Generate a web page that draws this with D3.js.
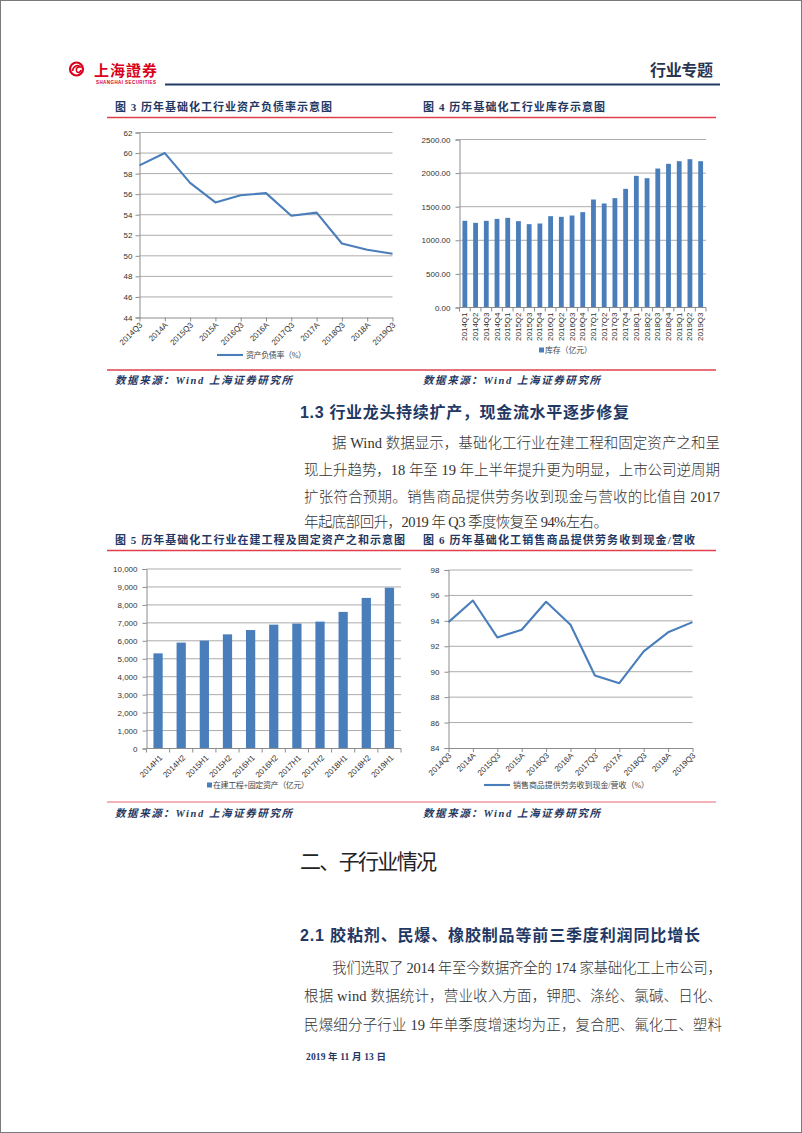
<!DOCTYPE html>
<html><head><meta charset="utf-8">
<script src="https://cdn.jsdelivr.net/npm/d3@7"></script>
<style>body{margin:0;background:#fff}svg{display:block}</style>
</head><body><svg id="page" width="802" height="1133"></svg>
<script>
// ---- data ----
const debtCats = ["2014Q3","2014A","2015Q3","2015A","2016Q3","2016A","2017Q3","2017A","2018Q3","2018A","2019Q3"];
const debtVals = [58.8,60.0,57.1,55.2,55.9,56.1,53.9,54.2,51.2,50.6,50.2];
const debtTicks = [44,46,48,50,52,54,56,58,60,62];

const invCats = ["2014Q1","2014Q2","2014Q3","2014Q4","2015Q1","2015Q2","2015Q3","2015Q4","2016Q1","2016Q2","2016Q3","2016Q4","2017Q1","2017Q2","2017Q3","2017Q4","2018Q1","2018Q2","2018Q3","2018Q4","2019Q1","2019Q2","2019Q3"];
const invVals = [1290,1260,1290,1319,1334,1285,1240,1250,1359,1349,1369,1419,1607,1548,1627,1766,1959,1924,2068,2138,2177,2207,2177];
const invTicks = [0,500,1000,1500,2000,2500];

const capexCats = ["2014H1","2014H2","2015H1","2015H2","2016H1","2016H2","2017H1","2017H2","2018H1","2018H2","2019H1"];
const capexVals = [5300,5900,6010,6360,6600,6900,6960,7070,7610,8390,8960];
const capexTicks = [0,1000,2000,3000,4000,5000,6000,7000,8000,9000,10000];

const cashCats = ["2014Q3","2014A","2015Q3","2015A","2016Q3","2016A","2017Q3","2017A","2018Q3","2018A","2019Q3"];
const cashVals = [93.9,95.6,92.7,93.3,95.5,93.7,89.7,89.1,91.6,93.1,93.9];
const cashTicks = [84,86,88,90,92,94,96,98];

// ---- styles ----
const BLUE = "#4a7ebb", GRID = "#acacac", AXIS = "#8c8c8c", NAVY = "#1f3864";
const TICKFONT = "'Liberation Sans', Arial, sans-serif";
const CJK = "'Liberation Serif','Noto Sans CJK SC',serif";
const svg = d3.select("#page");
svg.append("rect").attr("x",0.5).attr("y",0.5).attr("width",801).attr("height",1132)
  .attr("fill","#fff").attr("stroke","#7a7a7a");

function txt(s, x, y, o) {
  o = o || {};
  const t = svg.append("text").attr("x", x).attr("y", y).text(s)
    .attr("dominant-baseline","central")
    .attr("font-family", o.family || CJK)
    .attr("font-size", o.size || 14)
    .attr("font-weight", o.weight || "normal")
    .attr("fill", o.fill || "#222");
  if (o.style) t.attr("font-style", o.style);
  if (o.anchor) t.attr("text-anchor", o.anchor);
  if (o.len) t.attr("textLength", o.len).attr("lengthAdjust", o.adjust || "spacing");
  return t;
}

// ---- header ----
const logo = svg.append("g");
logo.append("circle").attr("cx",76.5).attr("cy",69).attr("r",6.5).attr("fill","none").attr("stroke","#d9001b").attr("stroke-width",2.2);
logo.append("path").attr("d","M72.5,71 C73,66 78,64 80.5,67 C78,66.5 75.5,68 76.5,71 C77.5,73.5 80.5,72.5 81,70").attr("fill","none").attr("stroke","#d9001b").attr("stroke-width",1.6);
txt("上海證券", 94, 69, {size:15, weight:"bold", fill:"#d9001b", len:63, family:"'Noto Sans CJK TC','Noto Sans CJK SC'"});
txt("SHANGHAI SECURITIES", 96, 82, {size:4.5, weight:"bold", fill:"#d9001b", len:60, family:TICKFONT});
svg.append("line").attr("x1",165).attr("x2",720).attr("y1",84.5).attr("y2",84.5).attr("stroke",NAVY).attr("stroke-width",2.2);
txt("行业专题", 650, 69, {size:16, weight:"bold", fill:"#2a3550", len:63, family:"'Noto Sans CJK SC'"});

// figure titles & rules
const TITLEF = "'Liberation Serif','Noto Sans CJK SC'";
function redLine(y, color) {
  svg.append("line").attr("x1",107).attr("x2",716).attr("y1",y).attr("y2",y).attr("stroke",color||"#e0404c").attr("stroke-width",1.3);
}
txt("图 3  历年基础化工行业资产负债率示意图", 115, 107, {size:11, weight:"bold", fill:NAVY, len:217, family:TITLEF});
txt("图 4  历年基础化工行业库存示意图", 423, 107, {size:11, weight:"bold", fill:NAVY, len:182, family:TITLEF});
redLine(117.5);
redLine(370);
txt("数据来源：Wind 上海证券研究所", 115, 380, {size:10.5, weight:"bold", style:"italic", fill:NAVY, len:177, family:TITLEF});
txt("数据来源：Wind 上海证券研究所", 423, 380, {size:10.5, weight:"bold", style:"italic", fill:NAVY, len:177, family:TITLEF});

txt("1.3  行业龙头持续扩产，现金流水平逐步修复", 300, 412, {size:16, weight:"bold", fill:NAVY, len:329, family:"'Liberation Sans','Noto Sans CJK SC'"});
const P = {size:14.5, fill:"#333", weight:300, family:"'Liberation Serif','Noto Sans CJK SC'"};
txt("据 Wind 数据显示，基础化工行业在建工程和固定资产之和呈", 332, 443, Object.assign({len:388}, P));
txt("现上升趋势，18 年至 19 年上半年提升更为明显，上市公司逆周期", 304, 470, Object.assign({len:416}, P));
txt("扩张符合预期。销售商品提供劳务收到现金与营收的比值自 2017", 304, 497, Object.assign({len:416}, P));
txt("年起底部回升，2019 年 Q3 季度恢复至 94%左右。", 304, 522, Object.assign({len:304}, P));

txt("图 5  历年基础化工行业在建工程及固定资产之和示意图", 115, 540, {size:11, weight:"bold", fill:NAVY, len:290, family:TITLEF});
txt("图 6  历年基础化工销售商品提供劳务收到现金/营收", 423, 540, {size:11, weight:"bold", fill:NAVY, len:272, family:TITLEF});
redLine(550.5);
redLine(802, "#f09aa2");
txt("数据来源：Wind 上海证券研究所", 115, 813, {size:10.5, weight:"bold", style:"italic", fill:NAVY, len:177, family:TITLEF});
txt("数据来源：Wind 上海证券研究所", 423, 813, {size:10.5, weight:"bold", style:"italic", fill:NAVY, len:177, family:TITLEF});

txt("二、子行业情况", 300, 860, {size:21, fill:"#222", len:137, family:"'Noto Sans CJK SC'"});
txt("2.1  胶粘剂、民爆、橡胶制品等前三季度利润同比增长", 300, 935, {size:16, weight:"bold", fill:NAVY, len:400, family:"'Liberation Sans','Noto Sans CJK SC'"});
txt("我们选取了 2014 年至今数据齐全的 174 家基础化工上市公司，", 332, 968, Object.assign({len:390}, P));
txt("根据  wind  数据统计，营业收入方面，钾肥、涤纶、氯碱、日化、", 304, 996, Object.assign({len:418}, P));
txt("民爆细分子行业  19  年单季度增速均为正，复合肥、氟化工、塑料", 304, 1025, Object.assign({len:418}, P));
txt("2019 年 11 月 13 日", 306, 1057, {size:9.5, weight:"bold", fill:NAVY, len:80, family:TITLEF});

// ---- chart helpers ----
function yAxis(g, y, x0, x1, ticks, fmt, pad) {
  ticks.forEach(t => {
    if (t !== ticks[0]) g.append("line").attr("x1",x0).attr("x2",x1).attr("y1",y(t)).attr("y2",y(t)).attr("stroke",GRID).attr("stroke-width",1);
  });
  const ax = g.append("g").attr("transform",`translate(${x0},0)`)
    .call(d3.axisLeft(y).tickValues(ticks).tickFormat(fmt).tickSize(4).tickPadding(pad));
  ax.select(".domain").attr("stroke",AXIS);
  ax.selectAll(".tick line").attr("stroke",AXIS);
  ax.selectAll("text").attr("font-family",TICKFONT).attr("font-size",8).attr("fill","#333");
}

function lineChart(o) {
  const g = svg.append("g");
  const x = d3.scalePoint().domain(o.cats).range([o.x0,o.x1]).padding(0);
  const y = d3.scaleLinear().domain([o.ticks[0], o.ticks[o.ticks.length-1]]).range([o.y1,o.y0]);
  yAxis(g, y, o.x0, o.x1, o.ticks, d3.format("d"), o.pad);
  const xa = g.append("g").attr("transform",`translate(0,${o.y1})`)
    .call(d3.axisBottom(x).tickSize(4).tickSizeOuter(0));
  xa.select(".domain").attr("stroke",AXIS);
  xa.selectAll(".tick line").attr("stroke",AXIS);
  xa.selectAll("text").attr("font-family",TICKFONT).attr("font-size",8).attr("fill","#333")
    .attr("text-anchor","end").attr("dy",0).attr("y",0)
    .attr("transform","translate(3,8) rotate(-45)");
  g.append("path").datum(o.vals)
    .attr("d", d3.line().x((d,i)=>x(o.cats[i])).y(d=>y(d)))
    .attr("fill","none").attr("stroke",BLUE).attr("stroke-width",2.1).attr("stroke-linejoin","round");
  g.append("line").attr("x1",o.lx).attr("x2",o.lx+26).attr("y1",o.ly).attr("y2",o.ly).attr("stroke",BLUE).attr("stroke-width",2.1);
  txt(o.legend, o.lx+29, o.ly, {size:8, fill:"#444", family:CJK, len:o.llen});
}

function barChart(o) {
  const g = svg.append("g");
  const x = d3.scaleBand().domain(o.cats).range([o.x0,o.x1]).paddingInner(o.pi).paddingOuter(o.pi/2);
  const y = d3.scaleLinear().domain([o.ticks[0], o.ticks[o.ticks.length-1]]).range([o.y1,o.y0]);
  yAxis(g, y, o.x0, o.x1, o.ticks, o.fmt, o.pad);
  g.selectAll(".bar").data(o.vals).enter().append("rect")
    .attr("x",(d,i)=>x(o.cats[i])).attr("width",x.bandwidth())
    .attr("y",d=>y(d)).attr("height",d=>o.y1-y(d)).attr("fill",BLUE);
  g.append("line").attr("x1",o.x0).attr("x2",o.x1).attr("y1",o.y1).attr("y2",o.y1).attr("stroke",AXIS);
  const step = x.step();
  o.cats.forEach((c,i)=>{
    const bx = x(c) - (step - x.bandwidth())/2;
    g.append("line").attr("x1",bx).attr("x2",bx).attr("y1",o.y1).attr("y2",o.y1+4).attr("stroke",AXIS);
  });
  g.append("line").attr("x1",o.x1).attr("x2",o.x1).attr("y1",o.y1).attr("y2",o.y1+4).attr("stroke",AXIS);
  o.cats.forEach(c=>{
    const cx = x(c) + x.bandwidth()/2;
    const t = g.append("text").text(c).attr("font-family",TICKFONT).attr("font-size",8).attr("fill","#333")
      .attr("text-anchor","end").attr("dominant-baseline","central");
    if (o.rot === -90) t.attr("transform",`translate(${cx},${o.y1+5}) rotate(-90)`);
    else t.attr("transform",`translate(${cx+3},${o.y1+8}) rotate(-45)`);
  });
  g.append("rect").attr("x",o.lx).attr("y",o.ly-2.5).attr("width",5).attr("height",5).attr("fill",BLUE);
  txt(o.legend, o.lx+6, o.ly, {size:8, fill:"#444", family:CJK, len:o.llen});
}

// ---- charts ----
lineChart({cats:debtCats, vals:debtVals, ticks:debtTicks, x0:139.5, x1:392.5, y0:132.5, y1:317.5, pad:3,
  lx:217, ly:355, legend:"资产负债率（%）", llen:60});
barChart({cats:invCats, vals:invVals, ticks:invTicks, x0:459.5, x1:706, y0:139.5, y1:307.5, pi:0.55, pad:5,
  fmt:d3.format(".2f"), rot:-90, lx:539, ly:350, legend:"库存（亿元）", llen:47});
barChart({cats:capexCats, vals:capexVals, ticks:capexTicks, x0:146.5, x1:401, y0:569, y1:748.5, pi:0.6, pad:5,
  fmt:d3.format(","), rot:-45, lx:207, ly:785, legend:"在建工程+固定资产（亿元）", llen:96});
lineChart({cats:cashCats, vals:cashVals, ticks:cashTicks, x0:448.5, x1:692.5, y0:570, y1:748, pad:5,
  lx:484, ly:785, legend:"销售商品提供劳务收到现金/营收（%）", llen:136});
</script></body></html>
